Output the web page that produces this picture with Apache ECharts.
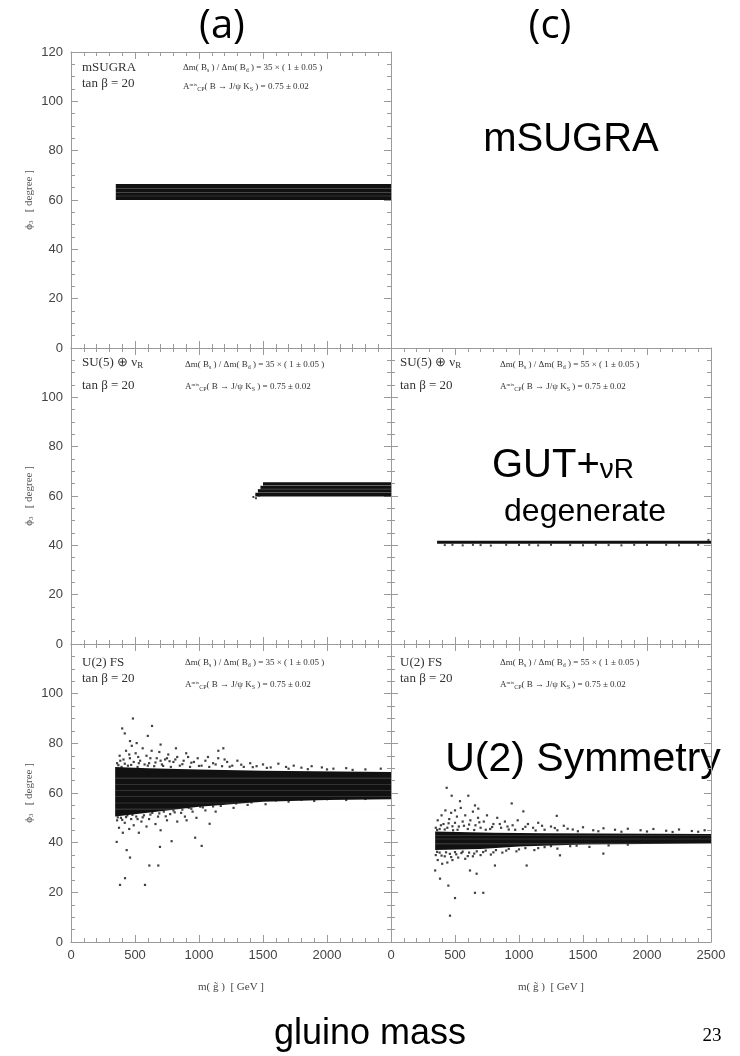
<!DOCTYPE html>
<html><head><meta charset="utf-8">
<script src="https://cdn.jsdelivr.net/npm/echarts@6/dist/echarts.min.js"></script>
<style>html,body{margin:0;padding:0;background:#fff}#c{width:740px;height:1056px}</style>
</head><body><div id="c"></div>
<script>
// ---- axis ticks ----
const yTicks = [0, 20, 40, 60, 80, 100, 120];
const xTicks = [0, 500, 1000, 1500, 2000, 2500];

// ---- (a) mSUGRA : solid band [x0, x1, yLow, yHigh] ----
const bandTL = [[350, 2500, 60.0, 66.5]];
const stripeTL = [61.6, 63.1, 64.6];

// ---- (a) SU(5)+nuR ----
const bandML = [[1500, 2500, 64.2, 65.6], [1480, 2500, 62.8, 64.2], [1460, 2500, 61.3, 62.8], [1440, 2500, 59.8, 61.3]];
const stripeML = [61.3, 62.8, 64.2];
const pointsML = [[1425, 59.6], [1445, 59.1], [1470, 60.2]];

// ---- (c) SU(5)+nuR degenerate ----
const bandMR = [[360, 2500, 40.6, 41.9]];
const pointsMR = [[420, 40.1], [480, 40.2], [560, 40.0], [640, 40.2], [700, 40.1], [780, 39.9], [900, 40.2], [1000, 40.1], [1080, 40.2], [1150, 40.0], [1250, 40.2], [1400, 40.1], [1500, 40.0], [1600, 40.2], [1700, 40.1], [1800, 40.0], [1900, 40.2], [2000, 40.1], [2150, 40.2], [2250, 40.0], [2400, 40.2], [2480, 42.2]];

// ---- (a) U(2) FS : dense core envelope + scattered points ----
const coreTopBL = [[345, 70.5], [600, 70.0], [1000, 69.5], [1500, 69.0], [2500, 68.5]];
const coreBotBL = [[345, 50.5], [600, 52.0], [1000, 54.5], [1500, 56.5], [2000, 57.2], [2500, 57.5]];
const stripeBL = [53.5, 56.0, 58.5, 61.0, 63.5, 66.0];
const pointsBL = [
  [360,72],[380,75],[395,70.5],[410,73.5],[430,77],[445,71],[460,74],[475,79],[490,72.5],[505,76],[520,70.5],[540,73],[560,78],[575,71.5],[590,75],[610,72],[630,77],[650,70.8],[670,74],[690,76.5],[710,71.5],[735,73.5],[760,75.5],[780,70.5],[800,72.5],[830,74.5],[850,71],[880,73],[900,76],[930,70.5],[960,72.5],[990,74],[1020,71],[1050,73],[1080,70.5],[1110,72],[1150,74],[1180,70.8],[1220,72.5],[1260,71],[1300,73],[1350,70.5],[1400,72],[1450,70.8],[1500,71.5],[1560,70.3],[1620,71.8],[1680,70.5],[1740,71],[1800,70.2],[1880,70.8],[1960,70.3],[2050,69.8],[2150,70],[2300,69.5],[2420,69.8],
  [370,71.2],[420,71.8],[470,71.3],[530,72],[600,71],[660,72.3],[720,70.9],[770,72.8],[870,71.6],[940,72.2],[1000,70.9],[1130,71.5],[1240,70.6],[1330,71.4],[1420,70.4],[1530,70.1],[1700,69.8],[1850,69.6],[2000,69.5],[2200,69.3],
  [385,73],[455,75.5],[525,74.5],[620,74],[700,73],[750,74],[815,73.5],[915,74.5],[1070,74.5],[1200,73.5],
  [461,80.9],[513,80.1],[484,90],[633,87],[1151,77],[1190,78],[400,86],[420,84],[600,83],[700,79.5],[820,78],
  [360,49],[375,46],[390,50],[405,44],[420,48],[440,51],[455,45.5],[470,49.5],[490,47],[510,50.5],[530,44],[550,48.5],[570,51],[590,46.5],[610,49.5],[635,52],[660,47.5],[680,50.5],[700,45],[725,52.5],[750,49],[775,51.5],[800,53],[830,48.5],[860,52],[890,50.5],[920,54],[950,52.5],[980,50],[1010,54.5],[1050,53],[1090,55.5],[1130,52.5],[1170,54.8],[1220,56],[1270,54],[1320,56.5],[1380,55.2],[1450,56.8],[1520,55.5],[1600,57],[1700,56.5],[1800,57.3],[1900,56.8],[2000,57.5],[2150,57.2],[2300,57.6],
  [365,50.2],[400,49.2],[430,50.3],[480,51.2],[520,49.5],[560,50.2],[620,51.3],[690,51.8],[740,50.6],[810,52.2],[870,53.3],[940,53.6],[1030,54.2],[1110,54.6],[1190,55.6],[1290,55.8],[1410,56.2],
  [357,40.3],[435,37],[461,34],[612,30.8],[682,30.8],[422,25.7],[383,23],[578,23],[1021,38.7],[970,42],[695,38.3],[786,40.6],[903,49],[1083,47.6]
];

// ---- (c) U(2) FS ----
const coreTopBR = [[345, 44.5], [800, 44.0], [1200, 43.8], [2500, 43.5]];
const coreBotBR = [[345, 37.0], [700, 37.5], [1000, 38.5], [1500, 39.3], [2500, 39.7]];
const stripeBR = [39.5, 41.5, 43.0];
const pointsBR = [
  [350,46],[365,49],[380,45.5],[395,51],[410,47.5],[425,53],[440,46],[455,49.5],[470,52],[485,45],[500,48],[515,50.5],[530,46.5],[545,54],[560,48.5],[580,51],[600,45.5],[620,49],[640,52.5],[660,47],[680,50],[700,46],[725,48.5],[750,51],[775,45.5],[800,47.5],[830,50],[860,46],[890,48.5],[920,45.3],[950,47],[990,49],[1030,45.5],[1070,47.5],[1110,46],[1150,48],[1200,45.2],[1250,46.5],[1300,45],[1350,46.8],[1420,45.3],[1500,46.2],[1580,45],[1660,45.8],[1750,45.2],[1850,45.6],[1950,45],[2050,45.5],[2150,44.8],[2250,45.3],[2350,44.7],[2450,45],
  [360,45.1],[390,47],[420,45.3],[450,47.8],[480,46.6],[520,45.2],[570,46.8],[610,47.3],[650,45.1],[690,48.2],[740,45.2],[790,46.3],[850,47.5],[910,46.5],[970,45.2],[1050,46.4],[1130,44.9],[1180,46.8],[1280,45.9],[1380,45.6],[1460,44.6],[1620,44.6],[1800,44.4],[2000,44.5],[2200,44.3],[2400,44.4],
  [350,35],[365,33],[380,36],[400,31.5],[420,34.5],[440,32],[460,35.5],[480,33],[500,36.2],[525,34],[550,35.8],[580,33.5],[610,36],[640,34.5],[670,36.5],[700,35],[740,36.8],[780,35.2],[820,37],[870,36],[920,37.5],[980,36.5],[1050,37.8],[1120,37],[1200,38.2],[1300,37.6],[1400,38.6],[1550,38.3],[1700,38.9],
  [360,36.3],[395,34.8],[430,36.1],[470,34.2],[510,35.3],[560,36.4],[600,34.6],[650,35.6],[720,36.2],[800,36.1],[900,36.8],[1000,37.3],[1150,37.8],[1250,38.6],[1450,38.8],[1850,39.2],
  [435,62.1],[474,58.9],[604,58.9],[539,56.7],[943,55.8],[500,53],[656,55],[682,53.7],[1034,52.6],[1295,50.8],[345,28.8],[383,25.5],[448,22.7],[500,17.7],[461,10.6],[656,19.8],[721,19.8],[617,28.8],[669,27.5],[1060,30.8],[1320,34.9],[1659,35.6],[812,30.8]
];

// ================= rendering =================
const frame = '#9a9a9a';
const ink = '#111';
const grids = [
  {left: 71, top: 52, width: 320, height: 296},   // 0 top-left
  {left: 71, top: 348, width: 320, height: 296},  // 1 middle-left
  {left: 71, top: 644, width: 320, height: 298},  // 2 bottom-left
  {left: 391, top: 348, width: 320, height: 296}, // 3 middle-right
  {left: 391, top: 644, width: 320, height: 298}  // 4 bottom-right
];
const tickFont = {color: '#444', fontFamily: 'Liberation Sans', fontSize: 13, formatter: v => String(v)};
const xAxes = [], yAxes = [];
const xLab = [null, null, 'left', null, 'right'];
const yLab = ['top', 'mid', 'mid', null, null];
grids.forEach((g, i) => {
  const xb = {type: 'value', gridIndex: i, min: xTicks[0], max: xTicks[xTicks.length - 1], interval: xTicks[1] - xTicks[0],
    axisLine: {show: true, onZero: false, lineStyle: {color: frame, width: 1}},
    axisTick: {show: true, inside: true, length: 7, lineStyle: {color: frame}},
    minorTick: {show: true, splitNumber: 5, length: 4, lineStyle: {color: frame}},
    splitLine: {show: false}};
  xAxes.push(Object.assign({}, xb, {position: 'bottom',
    axisLabel: Object.assign({show: !!xLab[i], showMaxLabel: xLab[i] === 'right', showMinLabel: true, margin: 7}, tickFont),
    name: xLab[i] ? 'm( g\u0303 )  [ GeV ]' : '', nameLocation: 'middle', nameGap: 40,
    nameTextStyle: {fontFamily: 'Liberation Serif', fontSize: 11, color: '#444'}}));
  xAxes.push(Object.assign({}, xb, {position: 'top', axisLabel: {show: false}}));
  const yb = {type: 'value', gridIndex: i, min: yTicks[0], max: yTicks[yTicks.length - 1], interval: yTicks[1] - yTicks[0],
    axisLine: {show: true, onZero: false, lineStyle: {color: frame, width: 1}},
    axisTick: {show: true, inside: true, length: 7, lineStyle: {color: frame}},
    minorTick: {show: true, splitNumber: 4, length: 4, lineStyle: {color: frame}},
    splitLine: {show: false}};
  yAxes.push(Object.assign({}, yb, {position: 'left',
    axisLabel: Object.assign({show: !!yLab[i], showMaxLabel: yLab[i] === 'top', showMinLabel: true, margin: 8}, tickFont),
    name: yLab[i] ? '{n|\u03d5}{s|3}{n|   [ degree ]}' : '', nameLocation: 'middle', nameGap: 36, nameRotate: 90,
    nameTextStyle: {fontFamily: 'Liberation Serif', fontSize: 11, color: '#555',
      rich: {n: {fontFamily: 'Liberation Serif', fontSize: 11, color: '#555'}, s: {fontFamily: 'Liberation Serif', fontSize: 7, color: '#555', padding: [4, 0, 0, 0]}}}}));
  yAxes.push(Object.assign({}, yb, {position: 'right', axisLabel: {show: false}}));
});

function bandSeries(g, data, fill) {
  return {type: 'custom', xAxisIndex: 2 * g, yAxisIndex: 2 * g, data: data, silent: true, animation: false, clip: true,
    dimensions: ['x0', 'x1', 'y0', 'y1'], encode: {x: [0, 1], y: [2, 3]},
    renderItem: (p, api) => {
      const a = api.coord([api.value(0), api.value(3)]);
      const b = api.coord([api.value(1), api.value(2)]);
      return {type: 'rect', shape: {x: a[0], y: a[1], width: b[0] - a[0], height: b[1] - a[1]}, style: {fill: fill}};
    }};
}
function stripeSeries(g, x0, x1, ys, color) {
  return {type: 'custom', xAxisIndex: 2 * g, yAxisIndex: 2 * g, data: ys.map(y => [x0, x1, y]), silent: true, animation: false, clip: true,
    dimensions: ['x0', 'x1', 'y'], encode: {x: [0, 1], y: 2}, z: 5,
    renderItem: (p, api) => {
      const a = api.coord([api.value(0), api.value(2)]);
      const b = api.coord([api.value(1), api.value(2)]);
      return {type: 'rect', shape: {x: a[0], y: a[1] - 0.3, width: b[0] - a[0], height: 0.6}, style: {fill: color}};
    }};
}
function polySeries(g, top, bot, fill) {
  return {type: 'custom', xAxisIndex: 2 * g, yAxisIndex: 2 * g, data: [top[0]], silent: true, animation: false, clip: true,
    renderItem: (p, api) => {
      const pts = top.concat(bot.slice().reverse()).map(q => api.coord(q));
      return {type: 'polygon', shape: {points: pts}, style: {fill: fill}};
    }};
}
function dotSeries(g, data, size) {
  return {type: 'scatter', xAxisIndex: 2 * g, yAxisIndex: 2 * g, data: data, symbol: 'rect', symbolSize: size,
    itemStyle: {color: ink}, silent: true, animation: false, z: 3};
}

const series = [
  bandSeries(0, bandTL, ink), stripeSeries(0, 350, 2500, stripeTL, 'rgba(255,255,255,0.3)'),
  bandSeries(1, bandML, ink), stripeSeries(1, 1440, 2500, stripeML, 'rgba(255,255,255,0.3)'), dotSeries(1, pointsML, 2),
  bandSeries(3, bandMR, ink), dotSeries(3, pointsMR, 2),
  polySeries(2, coreTopBL, coreBotBL, ink), stripeSeries(2, 345, 2500, stripeBL, 'rgba(255,235,235,0.3)'), dotSeries(2, pointsBL, 2.2),
  polySeries(4, coreTopBR, coreBotBR, ink), stripeSeries(4, 345, 2500, stripeBR, 'rgba(255,235,235,0.3)'), dotSeries(4, pointsBR, 2.2)
];

// ---- in-panel annotations ----
const serif = 'Liberation Serif';
const richF = {
  n: {fontFamily: serif, fontSize: 9, color: '#333'},
  s: {fontFamily: serif, fontSize: 6, color: '#333', padding: [5, 0, 0, 0]},
  u: {fontFamily: serif, fontSize: 5, color: '#333', padding: [0, 0, 5, 0]}
};
const richL = {
  n: {fontFamily: serif, fontSize: 13, color: '#333'},
  s: {fontFamily: serif, fontSize: 9, color: '#333', padding: [6, 0, 0, 0]}
};
function panelText(x, fx, y1, y2, fy1, fy2, model, ratio) {
  return [
    {type: 'text', x: x, y: y1, silent: true, style: {text: model, rich: richL, font: '13px ' + serif, fill: '#333', verticalAlign: 'middle'}},
    {type: 'text', x: x, y: y2, silent: true, style: {text: '{n|tan \u03b2 = 20}', rich: richL, font: '13px ' + serif, fill: '#333', verticalAlign: 'middle'}},
    {type: 'text', x: fx, y: fy1, silent: true, style: {text: '{n|\u0394m( B}{s|s}{n| ) / \u0394m( B}{s|d}{n| ) = ' + ratio + ' \u00d7 ( 1 \u00b1 0.05 )}', rich: richF, font: '9px ' + serif, fill: '#333', verticalAlign: 'middle'}},
    {type: 'text', x: fx, y: fy2, silent: true, style: {text: '{n|A}{u|mix}{s|CP}{n|( B \u2192 J/\u03c8 K}{s|S}{n| ) = 0.75 \u00b1 0.02}', rich: richF, font: '9px ' + serif, fill: '#333', verticalAlign: 'middle'}}
  ];
}
const sun = '{n|SU(5) \u2295 \u03bd}{s|R}';
const graphics = [].concat(
  panelText(82, 183, 68, 84, 68, 87, '{n|mSUGRA}', '35'),
  panelText(82, 185, 363, 386, 365, 387, sun, '35'),
  panelText(400, 500, 363, 386, 365, 387, sun, '55'),
  panelText(82, 185, 663, 679, 663, 685, '{n|U(2) FS}', '35'),
  panelText(400, 500, 663, 679, 663, 685, '{n|U(2) FS}', '55'),
  [
    {type: 'text', x: 222, y: 27, silent: true, style: {text: '(a)', font: '40px "Open Sans"', fill: '#000', align: 'center', verticalAlign: 'middle'}},
    {type: 'text', x: 550, y: 27, silent: true, style: {text: '(c)', font: '40px "Open Sans"', fill: '#000', align: 'center', verticalAlign: 'middle'}},
    {type: 'text', x: 571, y: 140, silent: true, style: {text: 'mSUGRA', font: '40px "Liberation Sans"', fill: '#000', align: 'center', verticalAlign: 'middle'}},
    {type: 'text', x: 492, y: 466, silent: true, style: {text: '{a|GUT+}{b|\u03bdR}', rich: {a: {font: '40px "Liberation Sans"', fill: '#000'}, b: {font: '28px "Liberation Sans"', fill: '#000', padding: [8, 0, 0, 0]}}, verticalAlign: 'middle'}},
    {type: 'text', x: 585, y: 512, silent: true, style: {text: 'degenerate', font: '32px "Liberation Sans"', fill: '#000', align: 'center', verticalAlign: 'middle'}},
    {type: 'text', x: 583, y: 760, silent: true, style: {text: 'U(2) Symmetry', font: '41px "Liberation Sans"', fill: '#000', align: 'center', verticalAlign: 'middle'}},
    {type: 'text', x: 370, y: 1034, silent: true, style: {text: 'gluino mass', font: '36px "Liberation Sans"', fill: '#000', align: 'center', verticalAlign: 'middle'}},
    {type: 'text', x: 712, y: 1036, silent: true, style: {text: '23', font: '19px "Liberation Serif"', fill: '#000', align: 'center', verticalAlign: 'middle'}}
  ]
);

const chart = echarts.init(document.getElementById('c'), null, {renderer: 'canvas'});
chart.setOption({
  animation: false,
  backgroundColor: '#fff',
  grid: grids,
  xAxis: xAxes,
  yAxis: yAxes,
  series: series,
  graphic: graphics
});
</script></body></html>
